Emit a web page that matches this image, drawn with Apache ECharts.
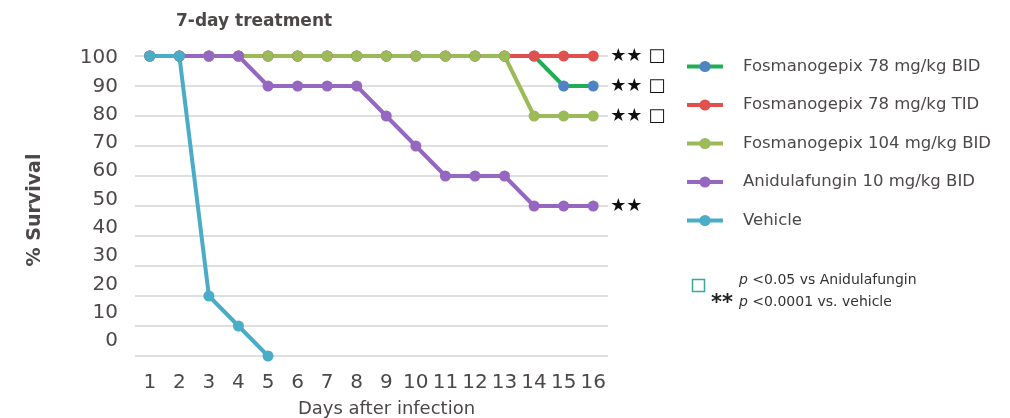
<!DOCTYPE html>
<html>
<head>
<meta charset="utf-8">
<script src="https://cdn.jsdelivr.net/npm/echarts@6/dist/echarts.min.js"></script>
<style>
  html, body { margin: 0; padding: 0; background: #fff; }
  #chart { width: 1010px; height: 418px; }
</style>
</head>
<body>
<div id="chart"></div>
<script>
// data
var days = ['1', '2', '3', '4', '5', '6', '7', '8', '9', '10', '11', '12', '13', '14', '15', '16']
var yTicks = [0, 10, 20, 30, 40, 50, 60, 70, 80, 90, 100]
var fos78bid = [100, 100, 100, 100, 100, 100, 100, 100, 100, 100, 100, 100, 100, 100, 90, 90]
var fos78tid = [100, 100, 100, 100, 100, 100, 100, 100, 100, 100, 100, 100, 100, 100, 100, 100]
var fos104bid = [100, 100, 100, 100, 100, 100, 100, 100, 100, 100, 100, 100, 100, 80, 80, 80]
var anid10bid = [100, 100, 100, 100, 90, 90, 90, 90, 80, 70, 60, 60, 60, 50, 50, 50]
var vehicle = [100, 100, 20, 10, 0]
var seriesNames = ['Fosmanogepix 78 mg/kg BID', 'Fosmanogepix 78 mg/kg TID', 'Fosmanogepix 104 mg/kg BID', 'Anidulafungin 10 mg/kg BID', 'Vehicle']
var marks = ['★★ □', '★★ □', '★★ □', '★★', '']

var font = '"DejaVu Sans", sans-serif'
var txt = '#4d4848'

function line(i, data, lineColor, dotColor) {
  return {
    name: seriesNames[i],
    type: 'line',
    data: data,
    symbol: 'circle',
    symbolSize: 11,
    showAllSymbol: true,
    lineStyle: { color: lineColor, width: 4 },
    itemStyle: { color: dotColor },
    endLabel: {
      show: marks[i] !== '',
      formatter: marks[i],
      color: '#111',
      fontSize: 18,
      fontFamily: font,
      distance: 17
    },
    emphasis: { disabled: true },
    animation: false
  }
}

var chart = echarts.init(document.getElementById('chart'))
chart.setOption({
  animation: false,
  title: {
    text: '7-day treatment',
    left: 176,
    top: 13,
    padding: 0,
    textStyle: { fontSize: 17, fontWeight: 'bold', color: txt, fontFamily: font }
  },
  legend: {
    orient: 'vertical',
    left: 680,
    top: 53,
    itemWidth: 36,
    itemHeight: 14,
    itemGap: 21.5,
    lineStyle: { width: 4 },
    textStyle: { fontSize: 16.5, color: txt, fontFamily: font, padding: [0, 0, 0, 15] },
    data: seriesNames
  },
  grid: [
    { left: 135, right: 402, top: 56, bottom: 62, outerBoundsMode: 'none' },
    { left: 135, right: 402, top: 58, bottom: 77, outerBoundsMode: 'none' }
  ],
  xAxis: [{
    type: 'category',
    data: days,
    boundaryGap: true,
    name: 'Days after infection',
    nameLocation: 'middle',
    nameGap: 44,
    nameTextStyle: { fontSize: 18, color: txt, fontFamily: font, padding: [0, 0, 0, 30] },
    axisLine: { show: false },
    axisTick: { show: false },
    axisLabel: { interval: 0, hideOverlap: false, fontSize: 20, color: txt, fontFamily: font, margin: 17 }
  }, {
    gridIndex: 1,
    type: 'category',
    data: days,
    show: false
  }],
  yAxis: [{
    type: 'value',
    min: 0,
    max: 100,
    interval: 10,
    name: '% Survival',
    nameLocation: 'middle',
    nameGap: 90,
    nameRotate: 90,
    nameTextStyle: { fontSize: 19, fontWeight: 'bold', color: txt, fontFamily: font, padding: [0, 8, 0, 0] },
    axisLabel: { show: false },
    axisLine: { show: false },
    axisTick: { show: false },
    splitLine: { lineStyle: { color: '#d4d4d4', width: 1.5 } }
  }, {
    gridIndex: 1,
    type: 'value',
    min: yTicks[0],
    max: yTicks[yTicks.length - 1],
    interval: 10,
    axisLine: { show: false },
    axisTick: { show: false },
    splitLine: { show: false },
    axisLabel: { fontSize: 20, color: txt, fontFamily: font, margin: 17 }
  }],
  series: [
    line(0, fos78bid, '#1fae55', '#4f84c4'),
    line(1, fos78tid, '#e0504d', '#e0504d'),
    line(2, fos104bid, '#9bbb59', '#9bbb59'),
    line(3, anid10bid, '#9567c0', '#9567c0'),
    line(4, vehicle, '#4aacc6', '#4aacc6')
  ],
  graphic: [
    { type: 'rect', left: 690, top: 277, shape: { width: 12, height: 12 }, style: { fill: 'none', stroke: '#3aa898', lineWidth: 1.5 } },
    { type: 'text', left: 739, top: 273, style: { text: '{i|p} <0.05 vs Anidulafungin', font: '14px ' + font, fill: '#333', rich: { i: { fontStyle: 'italic', fontSize: 14, fontFamily: font } } } },
    { type: 'text', left: 711, top: 293, style: { text: '**', font: 'bold 21px ' + font, fill: '#222' } },
    { type: 'text', left: 739, top: 295, style: { text: '{i|p} <0.0001 vs. vehicle', font: '14px ' + font, fill: '#333', rich: { i: { fontStyle: 'italic', fontSize: 14, fontFamily: font } } } }
  ]
})
window.addEventListener('resize', function() {
  chart.resize()
})
</script>
</body>
</html>
